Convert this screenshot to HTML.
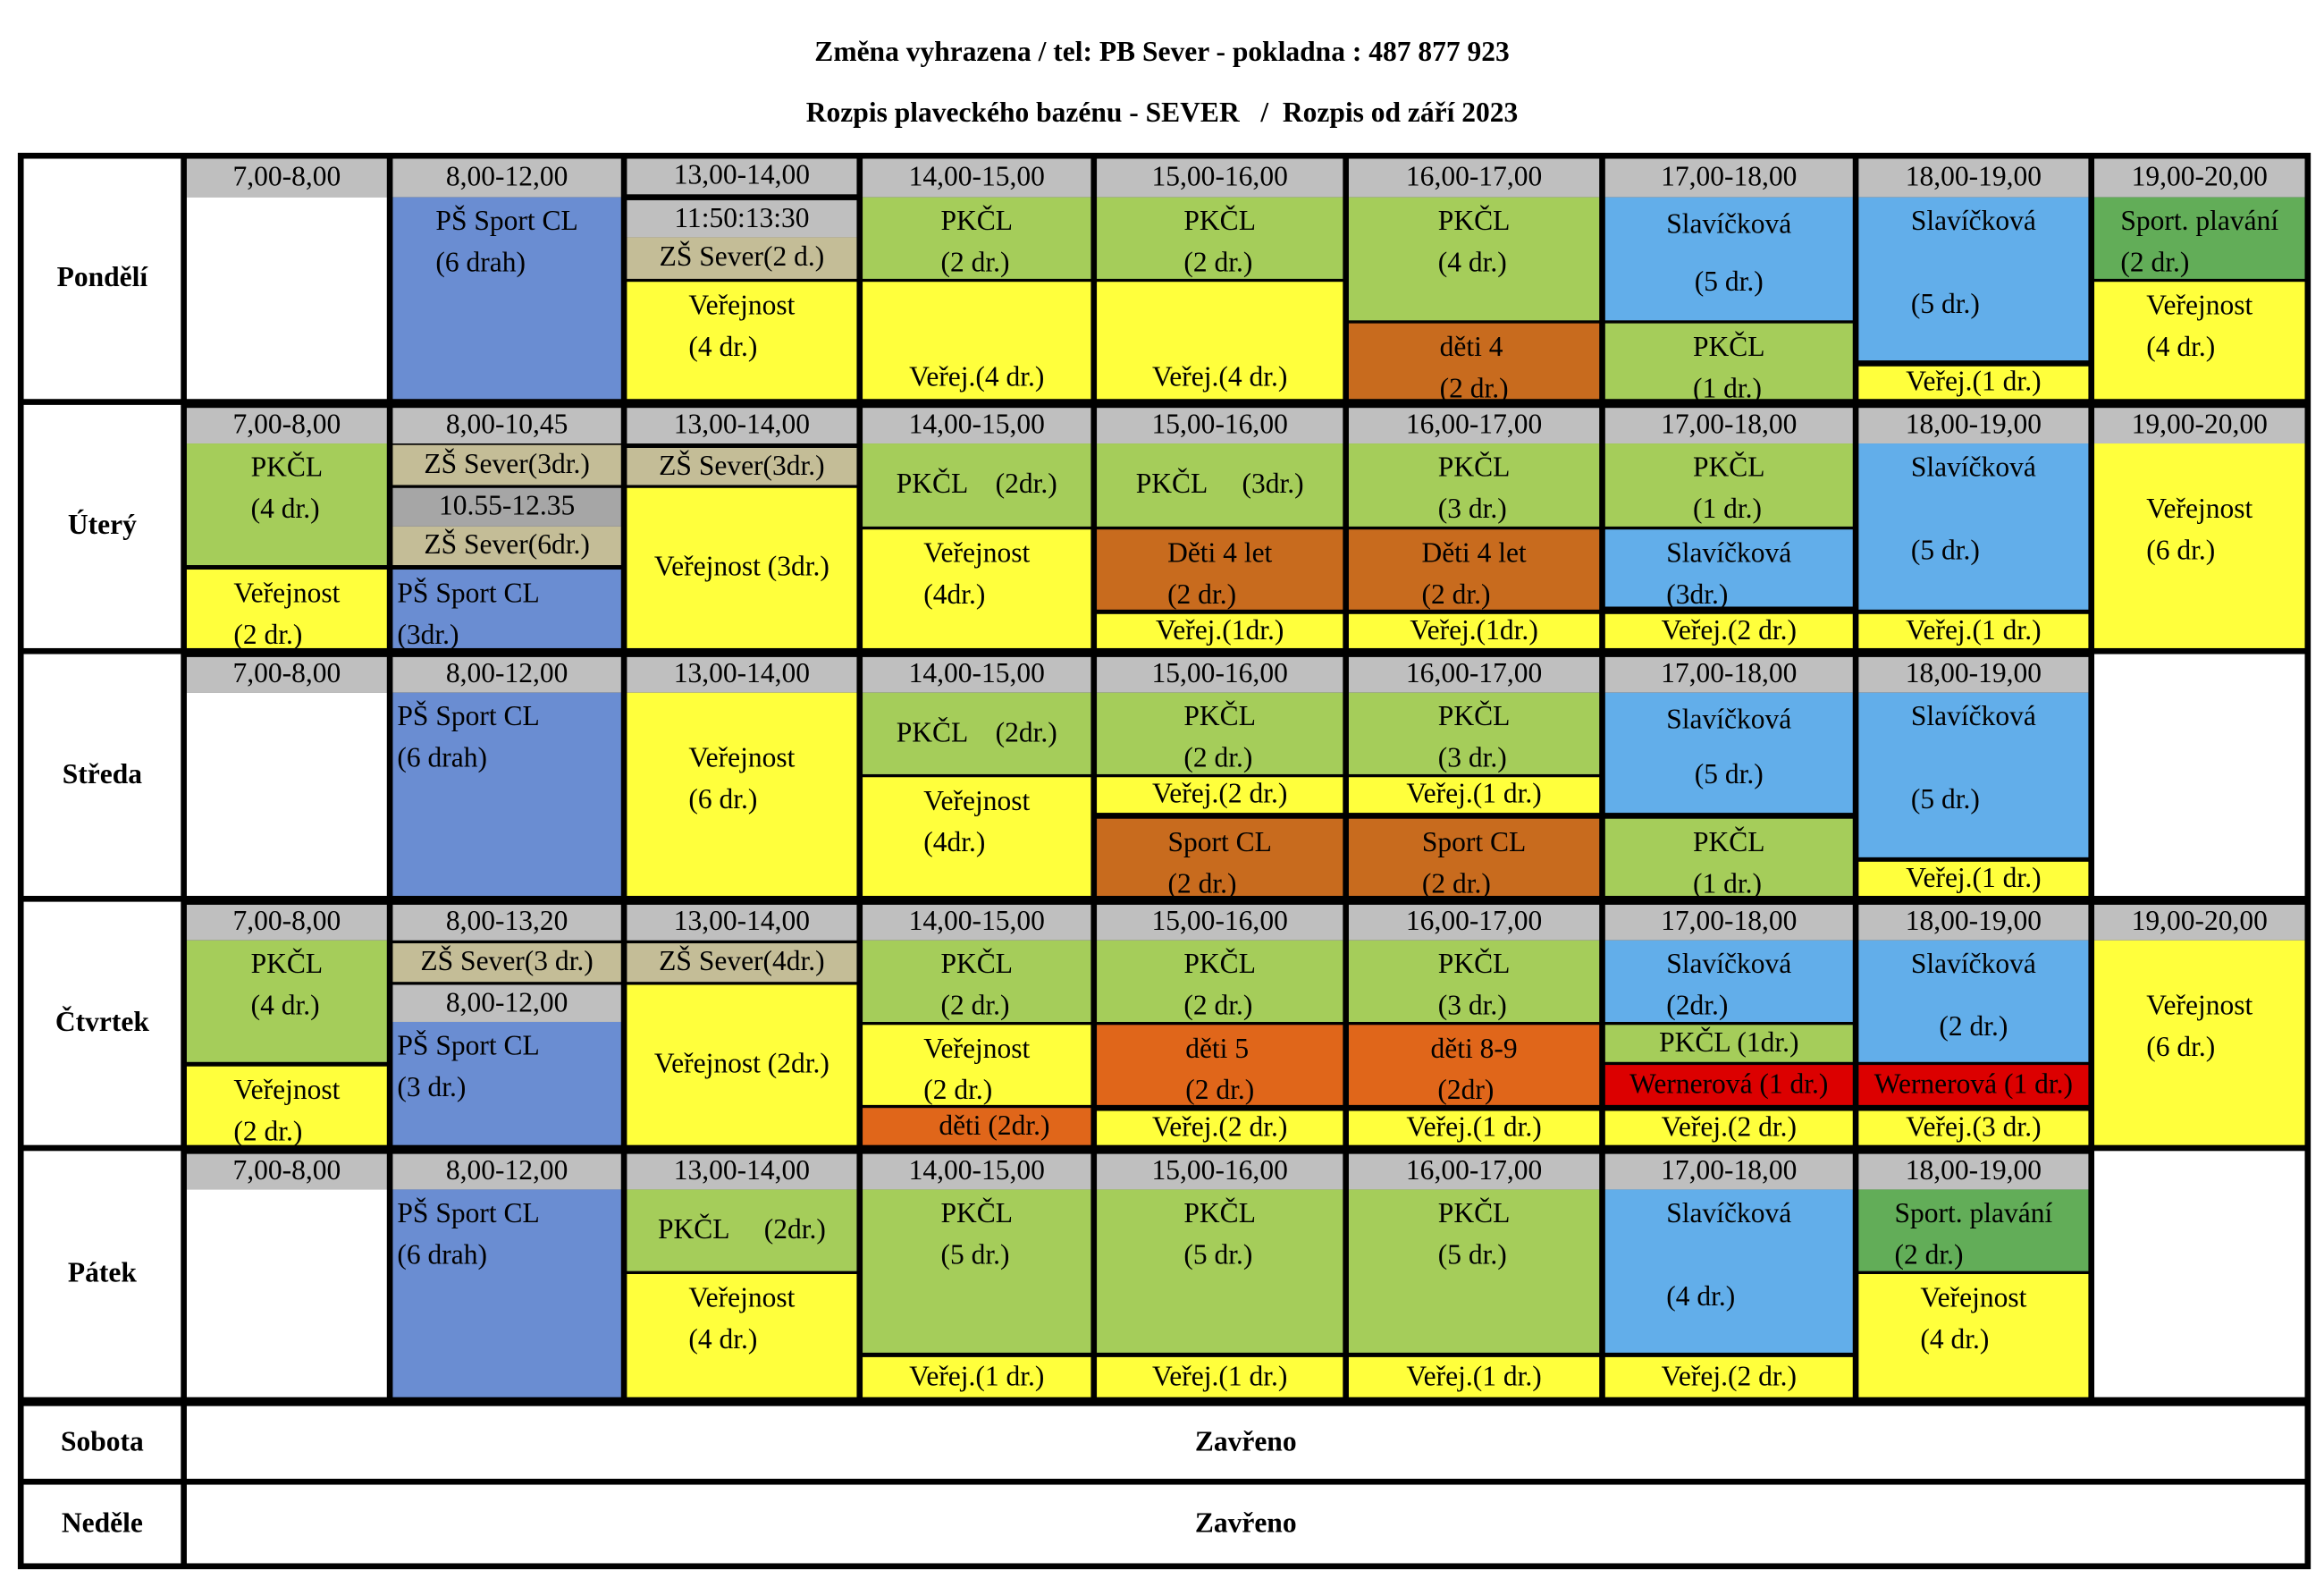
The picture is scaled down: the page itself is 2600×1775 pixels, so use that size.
<!DOCTYPE html>
<html><head><meta charset="utf-8">
<style>
html,body{margin:0;padding:0;background:#fff;}
body{width:2600px;height:1775px;overflow:hidden;position:relative;}
#wrap{position:absolute;left:0;top:0;width:1568px;height:1070px;transform:scale(1.6582,1.6589);transform-origin:0 0;font-family:"Liberation Serif",serif;}
.t{position:absolute;left:0;width:1568px;text-align:center;font-weight:bold;font-size:19px;}
.c{position:absolute;box-sizing:border-box;display:flex;flex-direction:column;align-items:center;font-size:19px;line-height:28px;white-space:pre;overflow:visible;color:#000;}
.day{font-weight:bold;justify-content:center;}
</style></head>
<body>
<div id="wrap">
<div class="t" style="top:25px">Změna vyhrazena / tel: PB Sever - pokladna : 487 877 923</div>
<div class="t" style="top:66px">Rozpis plaveckého bazénu - SEVER &nbsp; / &nbsp;Rozpis od září 2023</div>
<div style="position:absolute;left:12px;top:103px;width:1547px;height:955px;background:#000"></div>
</div>
<script>
const wrap=document.getElementById('wrap');
const COL=[[126,261],[265,419],[423,578],[582,736],[740,906],[910,1079],[1083,1250],[1254,1409],[1413,1555]];
const ROWS=[[107,269],[273,437],[441,604],[608,772],[776,942]];
const days=['Pondělí','Úterý','Středa','Čtvrtek','Pátek'];
const C={g:'#bfbfbf',dg:'#a6a6a6',b:'#6a8dd2',lb:'#62aeea',gr:'#a5cd5a',y:'#ffff3c',ob:'#c86b1e',o:'#e0661a',r:'#dc0000',tan:'#c4bd97',sg:'#62ad58',w:'#fff'};
// [day,col,y1,y2,color,text,align]
const cells=[
[0,0,107,133,'g','7,00-8,00'],[0,0,133,269,'w',''],
[0,1,107,133,'g','8,00-12,00'],[0,1,133,269,'b','PŠ Sport CL\n(6 drah)'],
[0,2,107,131,'g','13,00-14,00'],[0,2,135,160,'g','11:50:13:30'],[0,2,160,188,'tan','ZŠ Sever(2 d.)'],[0,2,190,269,'y','Veřejnost\n(4 dr.)'],
[0,3,107,133,'g','14,00-15,00'],[0,3,133,188,'gr','PKČL\n(2 dr.)'],[0,3,190,269,'y','Veřej.(4 dr.)','b'],
[0,4,107,133,'g','15,00-16,00'],[0,4,133,188,'gr','PKČL\n(2 dr.)'],[0,4,190,269,'y','Veřej.(4 dr.)','b'],
[0,5,107,133,'g','16,00-17,00'],[0,5,133,216,'gr','PKČL\n(4 dr.)'],[0,5,218,269,'ob','děti 4\n(2 dr.)'],
[0,6,107,133,'g','17,00-18,00'],[0,6,133,216,'lb','Slavíčková\n(5 dr.)','s'],[0,6,218,269,'gr','PKČL\n(1 dr.)'],
[0,7,107,133,'g','18,00-19,00'],[0,7,133,243,'lb','Slavíčková\n\n(5 dr.)'],[0,7,247,269,'y','Veřej.(1 dr.)'],
[0,8,107,133,'g','19,00-20,00'],[0,8,133,188,'sg','Sport. plavání\n(2 dr.)'],[0,8,190,269,'y','Veřejnost\n(4 dr.)'],
[1,0,275,299,'g','7,00-8,00'],[1,0,299,381,'gr','PKČL\n(4 dr.)'],[1,0,384,437,'y','Veřejnost\n(2 dr.)'],
[1,1,275,299,'g','8,00-10,45'],[1,1,300,327,'tan','ZŠ Sever(3dr.)'],[1,1,329,355,'dg','10.55-12.35'],[1,1,355,381,'tan','ZŠ Sever(6dr.)'],[1,1,384,437,'b','PŠ Sport CL\n(3dr.)','l'],
[1,2,275,299,'g','13,00-14,00'],[1,2,302,327,'tan','ZŠ Sever(3dr.)'],[1,2,329,437,'y','Veřejnost (3dr.)','c'],
[1,3,275,299,'g','14,00-15,00'],[1,3,299,355,'gr','PKČL    (2dr.)','c'],[1,3,357,437,'y','Veřejnost\n(4dr.)'],
[1,4,275,299,'g','15,00-16,00'],[1,4,299,355,'gr','PKČL     (3dr.)','c'],[1,4,357,411,'ob','Děti 4 let\n(2 dr.)'],[1,4,414,437,'y','Veřej.(1dr.)'],
[1,5,275,299,'g','16,00-17,00'],[1,5,299,355,'gr','PKČL\n(3 dr.)'],[1,5,357,411,'ob','Děti 4 let\n(2 dr.)'],[1,5,414,437,'y','Veřej.(1dr.)'],
[1,6,275,299,'g','17,00-18,00'],[1,6,299,355,'gr','PKČL\n(1 dr.)'],[1,6,357,409,'lb','Slavíčková\n(3dr.)'],[1,6,414,437,'y','Veřej.(2 dr.)'],
[1,7,275,299,'g','18,00-19,00'],[1,7,299,411,'lb','Slavíčková\n\n(5 dr.)'],[1,7,414,437,'y','Veřej.(1 dr.)'],
[1,8,275,299,'g','19,00-20,00'],[1,8,299,437,'y','\nVeřejnost\n(6 dr.)'],
[2,0,443,467,'g','7,00-8,00'],[2,0,467,604,'w',''],
[2,1,443,467,'g','8,00-12,00'],[2,1,467,604,'b','PŠ Sport CL\n(6 drah)','l'],
[2,2,443,467,'g','13,00-14,00'],[2,2,467,604,'y','\nVeřejnost\n(6 dr.)'],
[2,3,443,467,'g','14,00-15,00'],[2,3,467,522,'gr','PKČL    (2dr.)','c'],[2,3,524,604,'y','Veřejnost\n(4dr.)'],
[2,4,443,467,'g','15,00-16,00'],[2,4,467,522,'gr','PKČL\n(2 dr.)'],[2,4,524,548,'y','Veřej.(2 dr.)'],[2,4,552,604,'ob','Sport CL\n(2 dr.)'],
[2,5,443,467,'g','16,00-17,00'],[2,5,467,522,'gr','PKČL\n(3 dr.)'],[2,5,524,548,'y','Veřej.(1 dr.)'],[2,5,552,604,'ob','Sport CL\n(2 dr.)'],
[2,6,443,467,'g','17,00-18,00'],[2,6,467,548,'lb','Slavíčková\n(5 dr.)','s'],[2,6,552,604,'gr','PKČL\n(1 dr.)'],
[2,7,443,467,'g','18,00-19,00'],[2,7,467,578,'lb','Slavíčková\n\n(5 dr.)'],[2,7,581,604,'y','Veřej.(1 dr.)'],
[2,8,441,604,'w',''],
[3,0,610,634,'g','7,00-8,00'],[3,0,634,716,'gr','PKČL\n(4 dr.)'],[3,0,719,772,'y','Veřejnost\n(2 dr.)'],
[3,1,610,634,'g','8,00-13,20'],[3,1,636,662,'tan','ZŠ Sever(3 dr.)'],[3,1,664,689,'g','8,00-12,00'],[3,1,689,772,'b','PŠ Sport CL\n(3 dr.)','l'],
[3,2,610,634,'g','13,00-14,00'],[3,2,636,662,'tan','ZŠ Sever(4dr.)'],[3,2,664,772,'y','Veřejnost (2dr.)','c'],
[3,3,610,634,'g','14,00-15,00'],[3,3,634,689,'gr','PKČL\n(2 dr.)'],[3,3,691,745,'y','Veřejnost\n(2 dr.)'],[3,3,747,772,'o','     děti (2dr.)'],
[3,4,610,634,'g','15,00-16,00'],[3,4,634,689,'gr','PKČL\n(2 dr.)'],[3,4,691,745,'o','děti 5\n(2 dr.)'],[3,4,749,772,'y','Veřej.(2 dr.)'],
[3,5,610,634,'g','16,00-17,00'],[3,5,634,689,'gr','PKČL\n(3 dr.)'],[3,5,691,745,'o','děti 8-9\n (2dr)'],[3,5,749,772,'y','Veřej.(1 dr.)'],
[3,6,610,634,'g','17,00-18,00'],[3,6,634,689,'lb','Slavíčková\n(2dr.)'],[3,6,691,716,'gr','PKČL (1dr.)'],[3,6,718,745,'r','Wernerová (1 dr.)'],[3,6,749,772,'y','Veřej.(2 dr.)'],
[3,7,610,634,'g','18,00-19,00'],[3,7,634,716,'lb','Slavíčková\n\n(2 dr.)','s'],[3,7,718,745,'r','Wernerová (1 dr.)'],[3,7,749,772,'y','Veřej.(3 dr.)'],
[3,8,610,634,'g','19,00-20,00'],[3,8,634,772,'y','\nVeřejnost\n(6 dr.)'],
[4,0,778,802,'g','7,00-8,00'],[4,0,802,942,'w',''],
[4,1,778,802,'g','8,00-12,00'],[4,1,802,942,'b','PŠ Sport CL\n(6 drah)','l'],
[4,2,778,802,'g','13,00-14,00'],[4,2,802,857,'gr','PKČL     (2dr.)','c'],[4,2,859,942,'y','Veřejnost\n(4 dr.)'],
[4,3,778,802,'g','14,00-15,00'],[4,3,802,912,'gr','PKČL\n(5 dr.)'],[4,3,915,942,'y','Veřej.(1 dr.)'],
[4,4,778,802,'g','15,00-16,00'],[4,4,802,912,'gr','PKČL\n(5 dr.)'],[4,4,915,942,'y','Veřej.(1 dr.)'],
[4,5,778,802,'g','16,00-17,00'],[4,5,802,912,'gr','PKČL\n(5 dr.)'],[4,5,915,942,'y','Veřej.(1 dr.)'],
[4,6,778,802,'g','17,00-18,00'],[4,6,802,912,'lb','Slavíčková\n\n(4 dr.)'],[4,6,915,942,'y','Veřej.(2 dr.)'],
[4,7,778,802,'g','18,00-19,00'],[4,7,802,857,'sg','Sport. plavání\n(2 dr.)'],[4,7,859,942,'y','Veřejnost\n(4 dr.)'],
[4,8,776,942,'w','']
];
function mk(x1,y1,x2,y2,bg,text,align,name,bold){
  const d=document.createElement('div');
  d.className='c';
  
  
  d.style.left=x1+'px';d.style.top=y1+'px';d.style.width=(x2-x1)+'px';d.style.height=(y2-y1)+'px';
  d.style.background=bg;
  if(bold)d.style.fontWeight='bold';
  const h=y2-y1;
  if(h<30){d.style.justifyContent='center';d.style.lineHeight='24px';}
  else if(align==='c'){d.style.justifyContent='center';}
  else if(align==='b'){d.style.justifyContent='flex-end';}
  else if(align==='s'){d.style.justifyContent='space-around';d.style.padding='0 0 6px 0';}
  else {d.style.justifyContent='flex-start';d.style.paddingTop='3px';}
  if(align==='l'){d.style.alignItems='flex-start';d.style.paddingLeft='3px';d.style.textAlign='left';}
  if(align==='s'){text.split('\n').forEach(t=>{const s=document.createElement('span');s.textContent=t;d.appendChild(s);});}
  else d.textContent=text;
  wrap.appendChild(d);
  return d;
}
ROWS.forEach((r,i)=>{
  mk(16,r[0],122,r[1],'#fff',days[i],'c','day-label-'+i,true).classList.add('day');
});
cells.forEach((c,i)=>{
  const col=COL[c[1]];
  mk(col[0],c[2],col[1],c[3],C[c[4]],c[5],c[6],c[5]?('slot-'+c[0]+'-'+c[1]+'-'+i):('empty-slot-'+c[0]+'-'+c[1]),false);
});
const closed=[['Sobota',948,997],['Neděle',1001,1054]];
closed.forEach((r,i)=>{
  mk(16,r[1],122,r[2],'#fff',r[0],'c','day-label-closed-'+i,true);
  mk(126,r[1],1555,r[2],'#fff','Zavřeno','c','closed-notice-'+i,true);
});
</script>
</body></html>
